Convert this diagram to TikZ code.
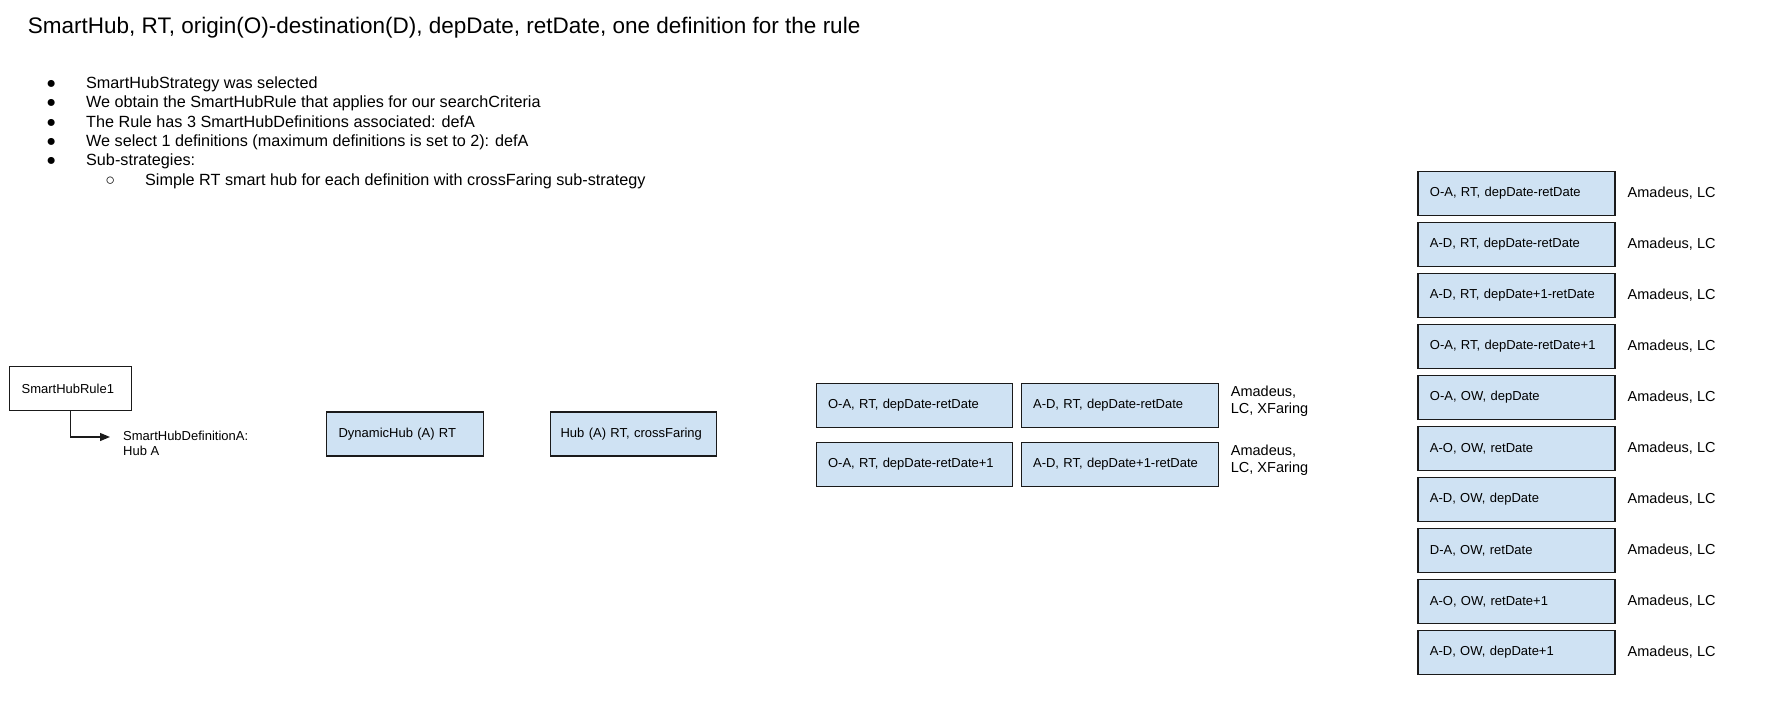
\documentclass[tikz,border=0pt]{standalone}
\usepackage{fontspec}
\setmainfont{Liberation Sans}
\usetikzlibrary{positioning,arrows.meta}
\definecolor{HubBlue}{HTML}{CFE2F3}
\definecolor{HubLine}{HTML}{1A1A1A}
\newcommand{\titlefont}{\fontsize{22.5}{27}\selectfont}
\newcommand{\listfont}{\fontsize{16.2}{19.5}\selectfont}
\newcommand{\boxfont}{\fontsize{13}{15}\selectfont}
\newcommand{\tagfont}{\fontsize{14.5}{17.5}\selectfont}
\newcommand{\bul}{\llap{●\hspace{30pt}}}
\newcommand{\subbul}{\llap{○\hspace{30pt}}}

\begin{document}
\begin{tikzpicture}[
  x=1pt,y=-1pt,
  headline/.style={anchor=base west,inner sep=0pt,font=\titlefont},
  item/.style={anchor=base west,inner sep=0pt,font=\listfont},
  box/.style={anchor=north west,draw=HubLine,line width=1.2pt,fill=HubBlue,
    minimum height=44pt,inner xsep=12pt,inner ysep=0pt,text width=#1,align=left,font=\boxfont},
  box/.default=173pt,
  rulebox/.style={box=98pt,fill=white},
  note/.style={inner sep=0pt,align=left,font=\boxfont},
  tag/.style={inner sep=0pt,align=left,font=\tagfont},
  arr/.style={-{Triangle[length=10pt,width=8pt]},line width=1.2pt,draw=HubLine}
]
  \useasboundingbox (0,0) rectangle (1765,722);

  % heading and notes
  \node[headline] (title) at (27.7,33.3) {SmartHub, RT, origin(O)-destination(D), depDate, retDate, one definition for the rule};
  \node[item] (l1) at (86,88.2) {\bul SmartHubStrategy was selected};
  \node[item] (l2) at (86,107.6) {\bul We obtain the SmartHubRule that applies for our searchCriteria};
  \node[item] (l3) at (86,127.1) {\bul The Rule has 3 SmartHubDefinitions associated: defA};
  \node[item] (l4) at (86,146.5) {\bul We select 1 definitions (maximum definitions is set to 2): defA};
  \node[item] (l5) at (86,166) {\bul Sub-strategies:};
  \node[item] (l6) at (145,185.4) {\subbul Simple RT smart hub for each definition with crossFaring sub-strategy};

  % rule and definition
  \node[rulebox] (rule) at (9,366) {SmartHubRule1};
  \node[note,anchor=west,inner xsep=13pt] (def) at (110,443) {SmartHubDefinitionA:\\Hub A};
  \draw[arr] (rule.south) |- ([yshift=6pt]def.west);

  % strategies
  \node[box=133pt] (dyn) at (326,411.3) {DynamicHub (A) RT};
  \node[box=146pt,inner xsep=10pt,right=65.8pt of dyn] (hub) {Hub (A) RT, crossFaring};

  % round trip pairs
  \node[box=172pt] (oa1) at (815.5,382.7) {O-A, RT, depDate-retDate};
  \node[box,right=7.8pt of oa1] (ad1) {A-D, RT, depDate-retDate};
  \node[box=172pt,below=13.8pt of oa1] (oa2) {O-A, RT, depDate-retDate+1};
  \node[box,right=7.8pt of oa2] (ad2) {A-D, RT, depDate+1-retDate};
  \node[tag,right=12pt of ad1,yshift=4pt] (prov1) {Amadeus,\\LC, XFaring};
  \node[tag,right=12pt of ad2,yshift=4pt] (prov2) {Amadeus,\\LC, XFaring};

  % single searches
  \node[box] (r1) at (1417.3,171) {O-A, RT, depDate-retDate};
  \node[box,below=5.8pt of r1] (r2) {A-D, RT, depDate-retDate};
  \node[box,below=5.8pt of r2] (r3) {A-D, RT, depDate+1-retDate};
  \node[box,below=5.8pt of r3] (r4) {O-A, RT, depDate-retDate+1};
  \node[box,below=5.8pt of r4] (r5) {O-A, OW, depDate};
  \node[box,below=5.8pt of r5] (r6) {A-O, OW, retDate};
  \node[box,below=5.8pt of r6] (r7) {A-D, OW, depDate};
  \node[box,below=5.8pt of r7] (r8) {D-A, OW, retDate};
  \node[box,below=5.8pt of r8] (r9) {A-O, OW, retDate+1};
  \node[box,below=5.8pt of r9] (r10) {A-D, OW, depDate+1};
  \node[tag,right=12pt of r1] (s1) {Amadeus, LC};
  \node[tag,right=12pt of r2] (s2) {Amadeus, LC};
  \node[tag,right=12pt of r3] (s3) {Amadeus, LC};
  \node[tag,right=12pt of r4] (s4) {Amadeus, LC};
  \node[tag,right=12pt of r5] (s5) {Amadeus, LC};
  \node[tag,right=12pt of r6] (s6) {Amadeus, LC};
  \node[tag,right=12pt of r7] (s7) {Amadeus, LC};
  \node[tag,right=12pt of r8] (s8) {Amadeus, LC};
  \node[tag,right=12pt of r9] (s9) {Amadeus, LC};
  \node[tag,right=12pt of r10] (s10) {Amadeus, LC};
\end{tikzpicture}
\end{document}
